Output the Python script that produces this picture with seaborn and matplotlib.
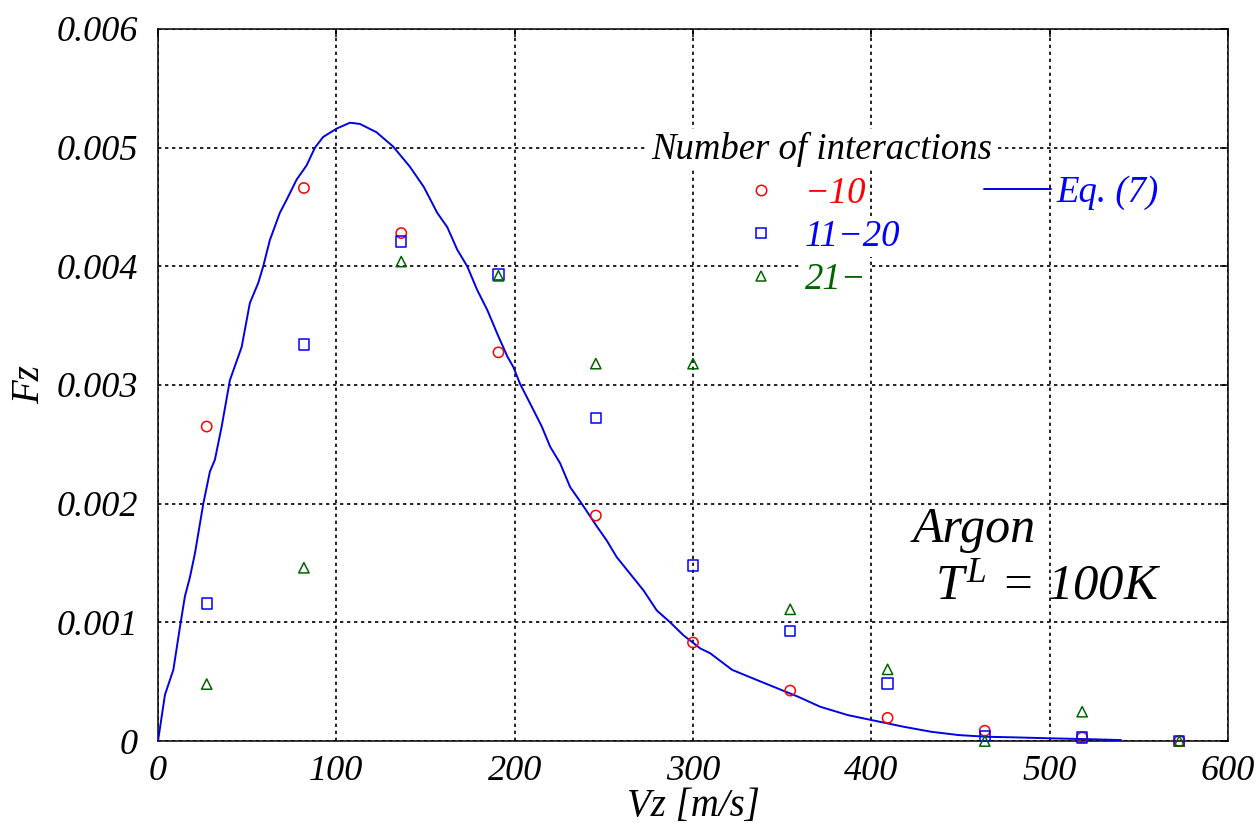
import matplotlib
matplotlib.use("Agg")
import matplotlib.pyplot as plt
import seaborn as sns
from matplotlib.lines import Line2D
from matplotlib.ticker import FuncFormatter

# ---- data ----
vz_bins = [27.3, 81.8, 136.4, 190.9, 245.5, 300.0, 354.5, 409.1, 463.6, 518.2, 572.7]
fz_low = [0.00265, 0.00466, 0.00428, 0.003275, 0.00190, 0.00083, 0.000425,
          0.000195, 0.000087, 0.00003, 0.0]
fz_mid = [0.00116, 0.00334, 0.00421, 0.00393, 0.00272, 0.00148, 0.000927,
          0.000486, 0.00004, 0.00003, 0.0]
fz_high = [0.00048, 0.00146, 0.00404, 0.00392, 0.00318, 0.00318, 0.00111,
           0.000604, 0.0, 0.000247, 0.0]

eq_vz = [0, 3.9, 8.6, 12.3, 15.1, 17.9, 20.7, 25.4, 29.1, 31.9, 35.7, 40.3, 46.9,
         51.5, 56.2, 59.0, 62.7, 68.3, 72.1, 77.7, 83.3, 88.0, 92.6, 100.1, 107.6,
         113.2, 122.5, 131.8, 141.2, 149.0, 156.6, 162.2, 167.8, 173.4, 179.0,
         184.7, 190.3, 195.9, 199.3, 203.0, 210.5, 215.2, 219.9, 225.5, 231.1,
         237.6, 246.0, 251.6, 257.2, 264.7, 272.2, 279.7, 287.2, 294.7, 304.1,
         309.6, 321.9, 340.4, 359.0, 371.3, 386.7, 400.0, 418.2, 433.6, 449.1,
         464.5, 480.0, 500.0, 526.0, 540.0]
eq_fz_milli = [0, 0.39, 0.60, 0.96, 1.22, 1.38, 1.58, 2.00, 2.27, 2.37, 2.65, 3.04,
               3.32, 3.69, 3.86, 4.00, 4.22, 4.45, 4.56, 4.73, 4.85, 5.00, 5.09,
               5.16, 5.21, 5.20, 5.13, 5.01, 4.84, 4.67, 4.45, 4.33, 4.14, 4.00,
               3.80, 3.63, 3.43, 3.24, 3.15, 3.01, 2.79, 2.65, 2.48, 2.34, 2.14,
               2.00, 1.81, 1.69, 1.55, 1.41, 1.27, 1.10, 1.00, 0.89, 0.78, 0.74,
               0.60, 0.486, 0.373, 0.289, 0.219, 0.177, 0.12, 0.078, 0.05, 0.036,
               0.031, 0.023, 0.014, 0.008]
eq_fz = [v * 1e-3 for v in eq_fz_milli]

series_labels = ["\u221210", "11\u221220", "21\u2212"]
series_colors = ["#ff0000", "#0000ff", "#006400"]
series_markers = ["o", "s", "^"]
legend_title = "Number of interactions"
eq_label = "Eq. (7)"
x_ticks = [0, 100, 200, 300, 400, 500, 600]
y_ticks = [0, 0.001, 0.002, 0.003, 0.004, 0.005, 0.006]

# ---- style ----
sns.set_theme(style="white")
plt.rcParams["font.family"] = ["Liberation Serif", "DejaVu Serif"]
plt.rcParams["font.style"] = "italic"
plt.rcParams["mathtext.fontset"] = "custom"
plt.rcParams["mathtext.it"] = "Liberation Serif:italic"
plt.rcParams["mathtext.rm"] = "Liberation Serif:italic"
for k in ["text.color", "axes.labelcolor", "xtick.color", "ytick.color"]:
    plt.rcParams[k] = "black"

fig = plt.figure(figsize=(12.59, 8.23), dpi=100)
ax = fig.add_axes([0.1255, 0.0996, 0.8499, 0.8652])

curve_color = "#0000e6"
sns.lineplot(x=eq_vz, y=eq_fz, color=curve_color, linewidth=1.4, sort=False,
             estimator=None, ax=ax, zorder=3)

for ys, col, mk in zip([fz_low, fz_mid, fz_high], series_colors, series_markers):
    sns.scatterplot(x=vz_bins, y=ys, marker=mk, s=55, facecolor="none",
                    edgecolor=col, linewidth=1.1, ax=ax, legend=False, zorder=4,
                    clip_on=False)

ax.set_xlim(0, 600)
ax.set_ylim(0, 0.006)
ax.set_xticks(x_ticks)
ax.set_yticks(y_ticks)
ax.yaxis.set_major_formatter(FuncFormatter(lambda v, p: "0" if v == 0 else f"{v:.3f}"))
ax.xaxis.set_major_formatter(FuncFormatter(lambda v, p: f"{v:.0f}"))

ax.set_axisbelow(True)
ax.grid(True, color="black", linestyle=(0, (2, 2.2)), linewidth=1.2)
for sp in ax.spines.values():
    sp.set_color("black")
    sp.set_linewidth(1.1)
ax.tick_params(direction="in", length=6, width=1.1, top=True, right=True,
               labelsize=26, colors="black")
ax.tick_params(axis="x", pad=10)
ax.tick_params(axis="y", pad=14.5)

ax.set_xlabel("Vz [m/s]", fontsize=28, labelpad=0)
ax.set_ylabel("Fz", fontsize=28, labelpad=6)

# legends
handles = [Line2D([], [], marker=m, linestyle="none", markerfacecolor="none",
                  markeredgecolor=c, markersize=7.5, markeredgewidth=1.1)
           for m, c in zip(series_markers, series_colors)]
leg1 = ax.legend(handles, series_labels, title=legend_title, loc="upper center",
                 bbox_to_anchor=(0.62, 0.855), frameon=False, fontsize=26.5,
                 title_fontsize=26.5, labelcolor=series_colors, handlelength=1.0,
                 handletextpad=0.7, labelspacing=0.24, alignment="center",
                 borderpad=0, borderaxespad=0)
leg1.get_title().set_bbox(dict(facecolor="white", edgecolor="none", pad=2))
for t in leg1.get_texts():
    t.set_bbox(dict(facecolor="white", edgecolor="none", pad=2))
ax.add_artist(leg1)

leg2 = ax.legend([Line2D([], [], color=curve_color, linewidth=1.4)], [eq_label],
                 loc="center left", bbox_to_anchor=(0.7715, 0.770), frameon=False,
                 fontsize=26.5, labelcolor="#0000ff", handlelength=1.82,
                 handletextpad=0.17, borderpad=0, borderaxespad=0)
for t in leg2.get_texts():
    t.set_bbox(dict(facecolor="white", edgecolor="none", pad=2))

ax.text(0.7056, 0.297, "Argon", transform=ax.transAxes, fontsize=36,
        va="center", ha="left")
ax.text(0.726, 0.217, r"$T^{L}$ = 100K", transform=ax.transAxes, fontsize=36.5,
        va="center", ha="left")

fig.savefig("out.png", dpi=100)
